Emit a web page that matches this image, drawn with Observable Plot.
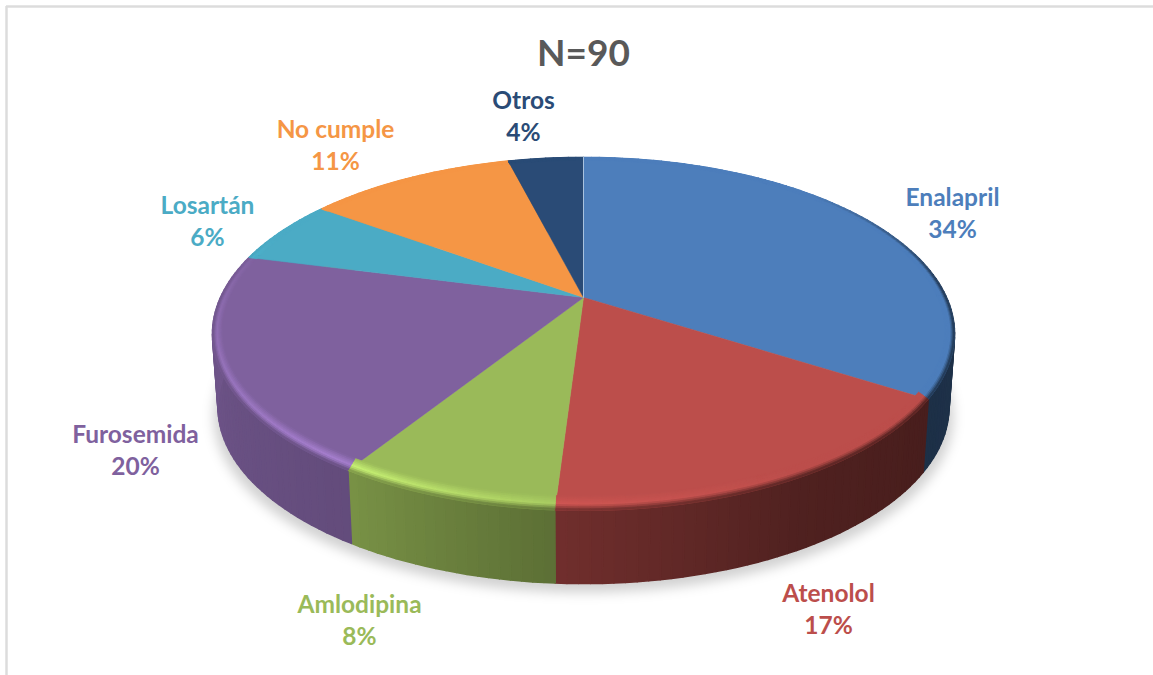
<!DOCTYPE html>
<html lang="es">
<head>
<meta charset="utf-8">
<title>N=90</title>
<style>
  html, body { margin: 0; padding: 0; background: #fff; }
  svg { display: block; }
</style>
<script src="https://cdn.jsdelivr.net/npm/d3@7"></script>
<script src="https://cdn.jsdelivr.net/npm/@observablehq/plot@0.6"></script>
</head>
<body>
<script>
// Prescription shares, clockwise from twelve o'clock
const farmacos = ["Enalapril", "Atenolol", "Amlodipina", "Furosemida", "Losartán", "No cumple", "Otros"];
const porcentajes = [34, 17, 8, 20, 6, 11, 4];
const titulo = "N=90";

// Slice colours
const colores = ["#4d7ebb", "#bc4e4b", "#9aba59", "#7f619e", "#4babc5", "#f59645", "#2a4b76"];

// Label centres, in pixels from the pie's vanishing centre (y up)
const posEtiquetas = [[369, 85.5], [245, -310.5], [-224, -321.5], [-448, -151.5], [-376, 77.5], [-248, 153.5], [-60, 182.5]];

// Perspective model of the disc: a unit circle seen from above
const persp = 0.2068, ancho = 363, alto = 169, grosor = 73;
function proyecta(grados, r = 1) {
  const a = grados * Math.PI / 180;
  const u = r * Math.sin(a), v = r * Math.cos(a), d = 1 + persp * v;
  return [ancho * u / d, alto * v / d];
}

// Angular extent of each slice
const acumulado = d3.cumsum(porcentajes);
const rebanadas = farmacos.map((nombre, i) => ({
  nombre, color: colores[i],
  a0: (i ? acumulado[i - 1] : 0) * 3.6,
  a1: acumulado[i] * 3.6
}));

// Lighting of the side wall and of the bevel's highlight, by angle
const sombraPared = d3.scaleLinear(
  [0, 45, 85, 122, 150, 184, 212, 270, 292, 360],
  [1, 1, 0.4, 0.38, 0.42, 0.6, 0.78, 0.88, 1, 1]);
const brillo = d3.scaleLinear(
  [0, 150, 184, 215, 270, 292, 360],
  [0, 0, 0.25, 0.75, 0.25, 0, 0]);

const oscurece = (c, k) => {
  const q = d3.rgb(c);
  return d3.rgb(q.r * k, q.g * k, q.b * k).formatHex();
};

// Angle pairs that split a slice into thin strips
const tiras = s => {
  const n = Math.max(1, Math.ceil((s.a1 - s.a0) / 1.5));
  return d3.range(n).map(k => [s.a0 + (s.a1 - s.a0) * k / n, s.a0 + (s.a1 - s.a0) * (k + 1) / n]);
};

// Rows of closed polygons for Plot.line: {id, x, y, c}
const filas = (caras) => caras.flatMap((c, id) =>
  c.pts.map(([x, y]) => ({ id, x, y, c: c.color })));

// Side wall, one shaded strip per step
const bordeInferior = a => {
  const [x, y] = proyecta(a);
  return [x * 0.985, y - grosor];
};
const pared = filas(rebanadas.flatMap(s => tiras(s).map(([a, b]) => ({
  color: oscurece(s.color, sombraPared((a + b) / 2)),
  pts: [proyecta(a), proyecta(b), bordeInferior(b), bordeInferior(a), proyecta(a)]
}))));

// Flat top of every slice
const caras = filas(rebanadas.map(s => ({
  color: s.color,
  pts: [[0, 0], ...tiras(s).map(t => proyecta(t[0])), proyecta(s.a1), [0, 0]]
})));

// Rounded bevel between the top and the wall, as concentric bands
const anillos = 8;
const puntoBisel = (a, t) => {
  const [x, y] = proyecta(a, 1 - 0.025 * (1 - t));
  return [x, y + 8 * (1 - t) * Math.max(0, -Math.cos(a * Math.PI / 180))];
};
const colorBisel = (s, a, t) => {
  const muro = oscurece(s.color, sombraPared(a));
  const luz = d3.interpolateRgb(s.color, d3.color(s.color).brighter(1))(brillo(a));
  return t < 0.6
    ? d3.interpolateRgb(s.color, luz)(t / 0.6)
    : d3.interpolateRgb(luz, muro)((t - 0.6) / 0.4);
};
const bisel = filas(rebanadas.flatMap(s => tiras(s).flatMap(([a, b]) =>
  d3.range(anillos).map(k => {
    const t0 = k / anillos, t1 = (k + 1) / anillos;
    return {
      color: colorBisel(s, (a + b) / 2, (t0 + t1) / 2),
      pts: [puntoBisel(a, t0), puntoBisel(b, t0), puntoBisel(b, t1), puntoBisel(a, t1), puntoBisel(a, t0)]
    };
  }))));

// Soft ground shadow under the disc
const sombra = d3.range(0, 361, 2).map(a => {
  const [x, y] = bordeInferior(a);
  return { x: x * 1.012, y: y - 9 };
});

const etiquetas = farmacos.map((f, i) => ({
  texto: `${f}\n${porcentajes[i]}%`,
  color: colores[i],
  x: posEtiquetas[i][0],
  y: posEtiquetas[i][1]
}));

const poligono = (datos, extra = {}) => Plot.line(datos, {
  x: "x", y: "y", z: "id", fill: "c", stroke: "c", strokeWidth: 1.6, curve: "linear", ...extra
});

const fuente = "Lato, 'Open Sans', sans-serif";

const grafico = Plot.plot({
  width: 1153,
  height: 675,
  margin: 0,
  style: { background: "#fff" },
  x: { domain: [-583, 570], axis: null },
  y: { domain: [-378, 297], axis: null },
  color: { type: "identity" },
  marks: [
    // Chart frame, top and left edges
    Plot.ruleX([-577], { y1: -378, y2: 291, stroke: "#dcdcdc", strokeWidth: 2.5 }),
    Plot.ruleY([291], { x1: -577, x2: 570, stroke: "#dcdcdc", strokeWidth: 2.5 }),
    Plot.line(sombra, { x: "x", y: "y", fill: "#000", fillOpacity: 0.18, stroke: "none", imageFilter: "blur(6px)" }),
    poligono(pared),
    poligono(caras, { strokeWidth: 0.5 }),
    poligono(bisel, { strokeWidth: 0.8 }),
    // Pale seam where the first slice starts
    Plot.line([proyecta(0, 0), proyecta(0, 1)], { stroke: "#a9c2de", strokeWidth: 1 }),
    Plot.text(etiquetas, {
      x: "x", y: "y", text: "texto", fill: "color",
      fontFamily: fuente, fontWeight: 700, fontSize: 24.5, lineHeight: 1.28
    }),
    Plot.text([titulo], {
      x: [0], y: [243], fill: "#595959",
      fontFamily: fuente, fontWeight: 700, fontSize: 37
    })
  ]
});

document.body.appendChild(grafico);
</script>
</body>
</html>
